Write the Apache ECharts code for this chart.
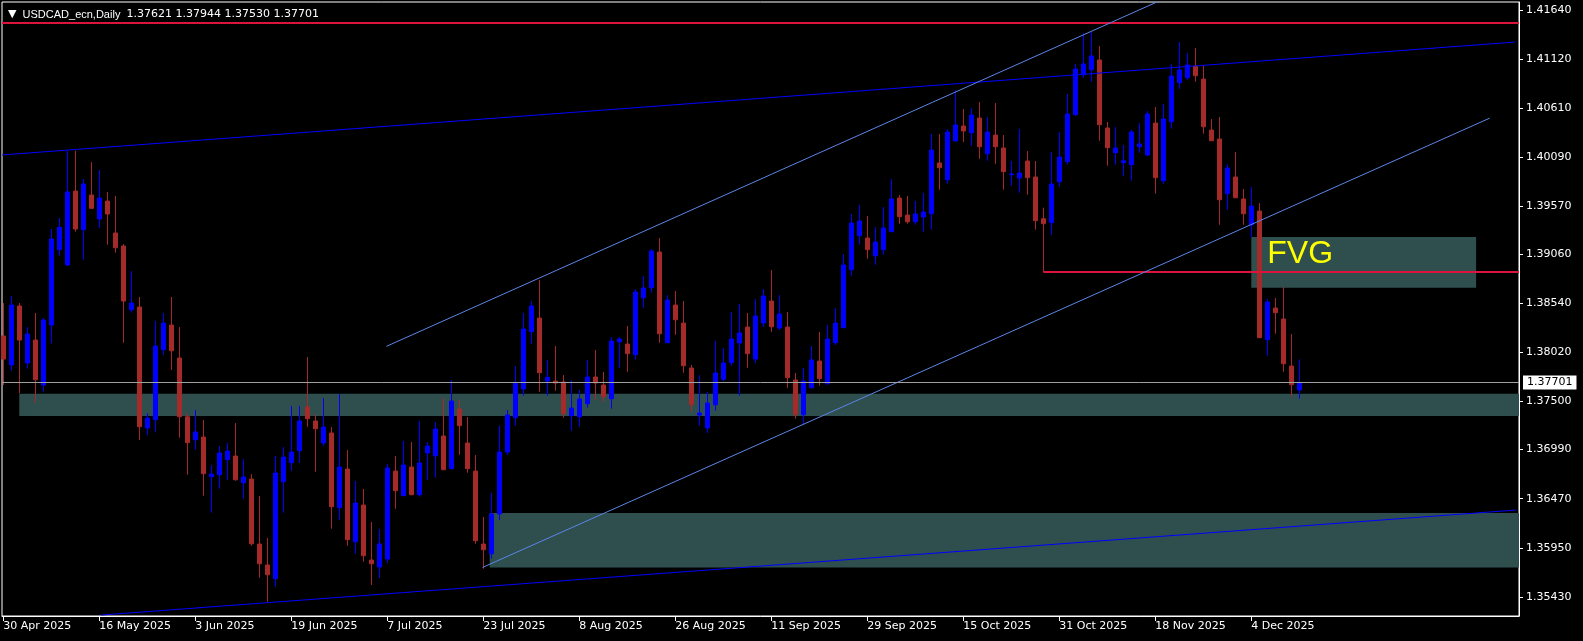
<!DOCTYPE html>
<html><head><meta charset="utf-8">
<script src="https://cdn.jsdelivr.net/npm/echarts@6/dist/echarts.min.js"></script>
<style>html,body{margin:0;padding:0;background:#000;}#c{width:1583px;height:641px;}</style>
</head><body><div id="c"></div>
<script>
// ---- data (daily bars from 30 Apr 2025, one per weekday) ----
const opens = [1.38193,1.37886,1.38511,1.37907,1.38150,1.37674,1.38309,1.39107,1.38945,1.39728,
1.39319,1.39686,1.39432,1.39622,1.39284,1.39146,1.38471,1.38500,1.37219,1.37306,
1.38048,1.38309,1.37960,1.37338,1.37095,1.37123,1.36703,1.36724,1.36883,1.36922,
1.36639,1.36678,1.35990,1.35768,1.35623,1.36650,1.36851,1.36978,1.37441,1.37293,
1.37060,1.37166,1.36375,1.36784,1.36014,1.36403,1.35821,1.35747,1.35831,1.36763,
1.36502,1.36806,1.36512,1.36954,1.36925,1.37134,1.36788,1.37420,1.37060,1.36763,
1.35990,1.35887,1.36308,1.36964,1.37328,1.37632,1.38238,1.38383,1.37716,1.37716,
1.37706,1.37349,1.37338,1.37476,1.37759,1.37674,1.37529,1.38132,1.38108,1.37995,
1.38598,1.38704,1.39082,1.38122,1.38521,1.38330,1.37854,1.37356,1.37219,1.37465,
1.37734,1.37910,1.38119,1.38288,1.37949,1.38330,1.38563,1.38278,1.38288,1.37727,
1.37359,1.37645,1.37928,1.37688,1.38122,1.38281,1.38895,1.39255,1.39231,1.39043,
1.39107,1.39297,1.39654,1.39474,1.39403,1.39453,1.39488,1.40025,1.39848,1.40258,
1.40417,1.40346,1.40501,1.40123,1.40321,1.40184,1.39901,1.39866,1.40046,1.39877,
1.39435,1.39393,1.39827,1.40039,1.40536,1.40960,1.41013,1.41116,1.40396,1.40134,
1.40028,1.40007,1.40197,1.40110,1.40448,1.39837,1.40462,1.40875,1.40928,1.41052,
1.40914,1.40374,1.40279,1.39700,1.39877,1.39644,1.39371,1.39517,1.38154,1.38489,
1.38373,1.37875,1.37621];
const highs = [1.38542,1.38616,1.38542,1.38288,1.38436,1.38383,1.39326,1.39442,1.40155,1.40155,
1.39855,1.40035,1.39951,1.39718,1.39675,1.39167,1.38881,1.38606,1.37374,1.38352,
1.38436,1.38606,1.38288,1.37374,1.37409,1.37303,1.36824,1.37028,1.37060,1.37271,
1.36890,1.36731,1.36498,1.36054,1.36922,1.37017,1.37452,1.37452,1.37970,1.37367,
1.37536,1.37229,1.37579,1.36986,1.36657,1.36573,1.36223,1.36149,1.36837,1.36922,
1.37081,1.37070,1.37293,1.37070,1.37282,1.37536,1.37727,1.37515,1.37335,1.36933,
1.36276,1.36530,1.37243,1.37409,1.37875,1.38436,1.38563,1.38786,1.37939,1.38087,
1.37780,1.37727,1.37621,1.37939,1.38045,1.37812,1.38182,1.38182,1.38299,1.38690,
1.38828,1.39114,1.39231,1.38627,1.38669,1.38563,1.37886,1.37780,1.37600,1.38140,
1.38066,1.38447,1.38532,1.38436,1.38585,1.38690,1.38892,1.38627,1.38447,1.37801,
1.37854,1.38087,1.38235,1.38309,1.38489,1.39061,1.39485,1.39580,1.39464,1.39347,
1.39559,1.39855,1.39686,1.39675,1.39622,1.39707,1.40332,1.40332,1.40385,1.40798,
1.40597,1.40607,1.40671,1.40512,1.40660,1.40321,1.40046,1.40385,1.40152,1.40046,
1.39552,1.40141,1.40353,1.40756,1.41073,1.41402,1.41412,1.41264,1.40459,1.40406,
1.40215,1.40374,1.40448,1.40576,1.40618,1.40650,1.41073,1.41306,1.41190,1.41243,
1.41052,1.40491,1.40512,1.40014,1.40141,1.39750,1.39771,1.39601,1.38585,1.38595,
1.38712,1.38214,1.37944];
const lows = [1.37674,1.37825,1.37586,1.37847,1.37486,1.37603,1.38116,1.39043,1.38934,1.39297,
1.39001,1.39538,1.39337,1.39160,1.39075,1.38122,1.38440,1.37091,1.37144,1.37176,
1.37992,1.37833,1.37116,1.36724,1.36989,1.36502,1.36322,1.36576,1.36671,1.36660,
1.36470,1.35972,1.35633,1.35379,1.35538,1.36322,1.36766,1.36851,1.37232,1.36756,
1.37031,1.36152,1.36247,1.35972,1.35887,1.35803,1.35556,1.35630,1.35789,1.36364,
1.36502,1.36512,1.36491,1.36671,1.36692,1.36777,1.36788,1.36936,1.36745,1.35993,
1.35729,1.35834,1.36244,1.36933,1.37243,1.37561,1.38111,1.37603,1.37561,1.37614,
1.37328,1.37190,1.37232,1.37434,1.37518,1.37497,1.37423,1.37857,1.37815,1.37942,
1.38492,1.38651,1.38122,1.38122,1.38207,1.37804,1.37391,1.37243,1.37166,1.37402,
1.37713,1.37878,1.37561,1.37857,1.37907,1.38288,1.38238,1.38256,1.37645,1.37317,
1.37253,1.37635,1.37666,1.37677,1.38097,1.38281,1.38831,1.39160,1.39011,1.38948,
1.39054,1.39297,1.39382,1.39382,1.39371,1.39297,1.39319,1.39742,1.39806,1.40258,
1.40247,1.40208,1.40070,1.40049,1.40017,1.39742,1.39784,1.39710,1.39689,1.39319,
1.38871,1.39262,1.39774,1.40007,1.40526,1.40928,1.40886,1.40261,1.39996,1.40007,
1.39890,1.39837,1.40134,1.40099,1.39700,1.39806,1.40388,1.40809,1.40904,1.40886,
1.40335,1.40261,1.39371,1.39530,1.39657,1.39371,1.39234,1.38175,1.37984,1.38217,
1.37815,1.37550,1.37530];
const closes = [1.37949,1.38521,1.38150,1.38214,1.37730,1.38362,1.39220,1.39344,1.39718,1.39326,
1.39802,1.39545,1.39654,1.39485,1.39128,1.38563,1.38542,1.37232,1.37324,1.38087,
1.38330,1.38037,1.37338,1.37063,1.37176,1.36735,1.36731,1.36954,1.36975,1.36671,
1.36700,1.35993,1.35781,1.35665,1.36742,1.36911,1.36964,1.37293,1.37317,1.37211,
1.37229,1.36385,1.36806,1.36036,1.36424,1.35866,1.35781,1.35990,1.36795,1.36555,
1.36827,1.36512,1.36848,1.37028,1.37208,1.36777,1.37504,1.37243,1.36788,1.36025,
1.35930,1.36308,1.36964,1.37356,1.37692,1.38267,1.38511,1.37804,1.37755,1.37695,
1.37370,1.37430,1.37526,1.37759,1.37695,1.37550,1.38140,1.38161,1.38005,1.38659,
1.38701,1.39093,1.38217,1.38574,1.38365,1.37878,1.37465,1.37377,1.37483,1.37801,
1.37907,1.38161,1.38225,1.38005,1.38405,1.38616,1.38291,1.38426,1.37751,1.37359,
1.37716,1.37939,1.37741,1.38161,1.38330,1.38945,1.39389,1.39411,1.39107,1.39188,
1.39337,1.39644,1.39456,1.39403,1.39485,1.39506,1.40163,1.39975,1.40353,1.40427,
1.40364,1.40533,1.40197,1.40353,1.40197,1.39933,1.39908,1.39919,1.39869,1.39414,
1.39382,1.39802,1.40088,1.40544,1.41020,1.41073,1.41158,1.40430,1.40187,1.40184,
1.40049,1.40353,1.40226,1.40544,1.39869,1.40491,1.40946,1.41010,1.41063,1.40949,
1.40409,1.40261,1.39636,1.39972,1.39657,1.39488,1.39570,1.38175,1.38553,1.38440,
1.37899,1.37677,1.37701];

const tickIndex = [0,12,24,36,48,60,72,84,96,108,120,132,144,156];
const tickLabels = ['30 Apr 2025','16 May 2025','3 Jun 2025','19 Jun 2025','7 Jul 2025','23 Jul 2025',
  '8 Aug 2025','26 Aug 2025','11 Sep 2025','29 Sep 2025','15 Oct 2025','31 Oct 2025','18 Nov 2025','4 Dec 2025'];
const priceTicks = [1.41640,1.41120,1.40610,1.40090,1.39570,1.39060,1.38540,1.38020,1.37500,1.36990,1.36470,1.35950,1.35430];

const symbolName = 'USDCAD_ecn,Daily';
const lastOHLC = '1.37621 1.37944 1.37530 1.37701';
const lastPrice = 1.37701;

const resistanceLevel = 1.41510;
const fvgLevel = 1.38870;
const fvgLevelStart = 130;
// zones: [startIndex, endIndex, topPrice, bottomPrice]
const supportZone = [2, 189.46, 1.37582, 1.37346];
const demandZone = [60.8, 189.46, 1.36319, 1.35742];
const fvgZone = [156, 184.1, 1.39241, 1.38704];
// trendlines: [[index, price], [index, price]]
const channelTop = [[-0.16, 1.40110], [189.0, 1.41306]];
const channelBottom = [[12.2, 1.35238], [189.1, 1.36350]];
const risingTop = [[47.9, 1.38084], [144.2, 1.41730]];
const risingBottom = [[59.9, 1.35742], [185.8, 1.40500]];

const X_MIN = -0.1625, X_MAX = 189.46;
const Y_MIN = 1.35228, Y_MAX = 1.41730;

// ---- chart ----
const chart = echarts.init(document.getElementById('c'));
const candles = opens.map((o, i) => [i, o, closes[i], lows[i], highs[i]]);
const seg = (pts, color, width) => [
  {coord: pts[0], lineStyle: {color: color, width: width, type: 'solid'}},
  {coord: pts[1]}
];
const zoneArea = (z, label) => [
  {coord: [z[0], z[2]], label: label || {show: false}},
  {coord: [z[1], z[3]]}
];
const font = 'DejaVu Sans';

chart.setOption({
  animation: false,
  backgroundColor: '#000',
  title: {
    text: '{t|▼}  {n|' + symbolName + '}  {v|' + lastOHLC + '}',
    left: 3, top: 4,
    textStyle: {
      color: '#fff', fontSize: 11, fontWeight: 'normal',
      rich: {
        t: {color: '#fff', fontSize: 11, fontFamily: font},
        n: {color: '#fff', fontSize: 11, fontFamily: 'Liberation Sans'},
        v: {color: '#fff', fontSize: 11, fontFamily: font}
      }
    }
  },
  grid: {left: 2, right: 64, top: 2, bottom: 25, show: true, borderColor: '#fff', borderWidth: 1, backgroundColor: '#000'},
  xAxis: {
    type: 'value', min: X_MIN, max: X_MAX,
    axisLine: {show: true, onZero: false, lineStyle: {color: '#fff'}},
    axisTick: {show: true, customValues: tickIndex, length: 5, lineStyle: {color: '#fff'}},
    axisLabel: {
      customValues: tickIndex,
      formatter: v => tickLabels[tickIndex.indexOf(Math.round(v))] || '',
      color: '#fff', fontFamily: font, fontSize: 11, align: 'left', margin: 5
    },
    splitLine: {show: false}
  },
  yAxis: {
    type: 'value', position: 'right', min: Y_MIN, max: Y_MAX, scale: true,
    axisLine: {show: true, onZero: false, lineStyle: {color: '#fff'}},
    axisTick: {show: true, customValues: priceTicks, length: 4, lineStyle: {color: '#fff'}},
    axisLabel: {
      customValues: priceTicks,
      formatter: v => v.toFixed(5),
      color: '#fff', fontFamily: font, fontSize: 11, margin: 7
    },
    splitLine: {show: false}
  },
  series: [
    {
      type: 'line', data: [], z: 1, silent: true,
      markArea: {
        silent: true,
        itemStyle: {color: '#2f4f4f'},
        emphasis: {disabled: true},
        data: [
          zoneArea(supportZone),
          zoneArea(demandZone),
          zoneArea(fvgZone, {
            show: true, formatter: 'FVG', position: [16, 17], verticalAlign: 'middle', align: 'left',
            color: '#ffff00', fontSize: 32, fontFamily: 'Liberation Sans'
          })
        ]
      }
    },
    {
      type: 'candlestick', data: candles, z: 2, barWidth: 4, silent: true,
      itemStyle: {color: '#0000ff', color0: '#a52a2a', borderColor: '#0000ff', borderColor0: '#a52a2a', borderWidth: 1}
    },
    {
      type: 'line', data: [], z: 3, silent: true,
      markLine: {
        silent: true, symbol: ['none', 'none'], animation: false, precision: 5,
        label: {show: false},
        emphasis: {disabled: true},
        data: [
          {yAxis: resistanceLevel, lineStyle: {color: '#dc143c', width: 2, type: 'solid'}},
          [{coord: [fvgLevelStart, fvgLevel], lineStyle: {color: '#dc143c', width: 2, type: 'solid'}}, {coord: [X_MAX, fvgLevel]}],
          seg(channelTop, '#0000ff', 1),
          seg(channelBottom, '#0000ff', 1),
          seg(risingTop, '#5b86e8', 1),
          seg(risingBottom, '#5b86e8', 1),
          {yAxis: lastPrice, lineStyle: {color: '#a0a0a0', width: 1, type: 'solid'},
           label: {show: true, position: 'end', formatter: lastPrice.toFixed(5), backgroundColor: '#fff',
                   color: '#000', fontFamily: font, fontSize: 11, padding: [2, 4, 1, 4], distance: 4}}
        ]
      }
    }
  ]
});
</script></body></html>
